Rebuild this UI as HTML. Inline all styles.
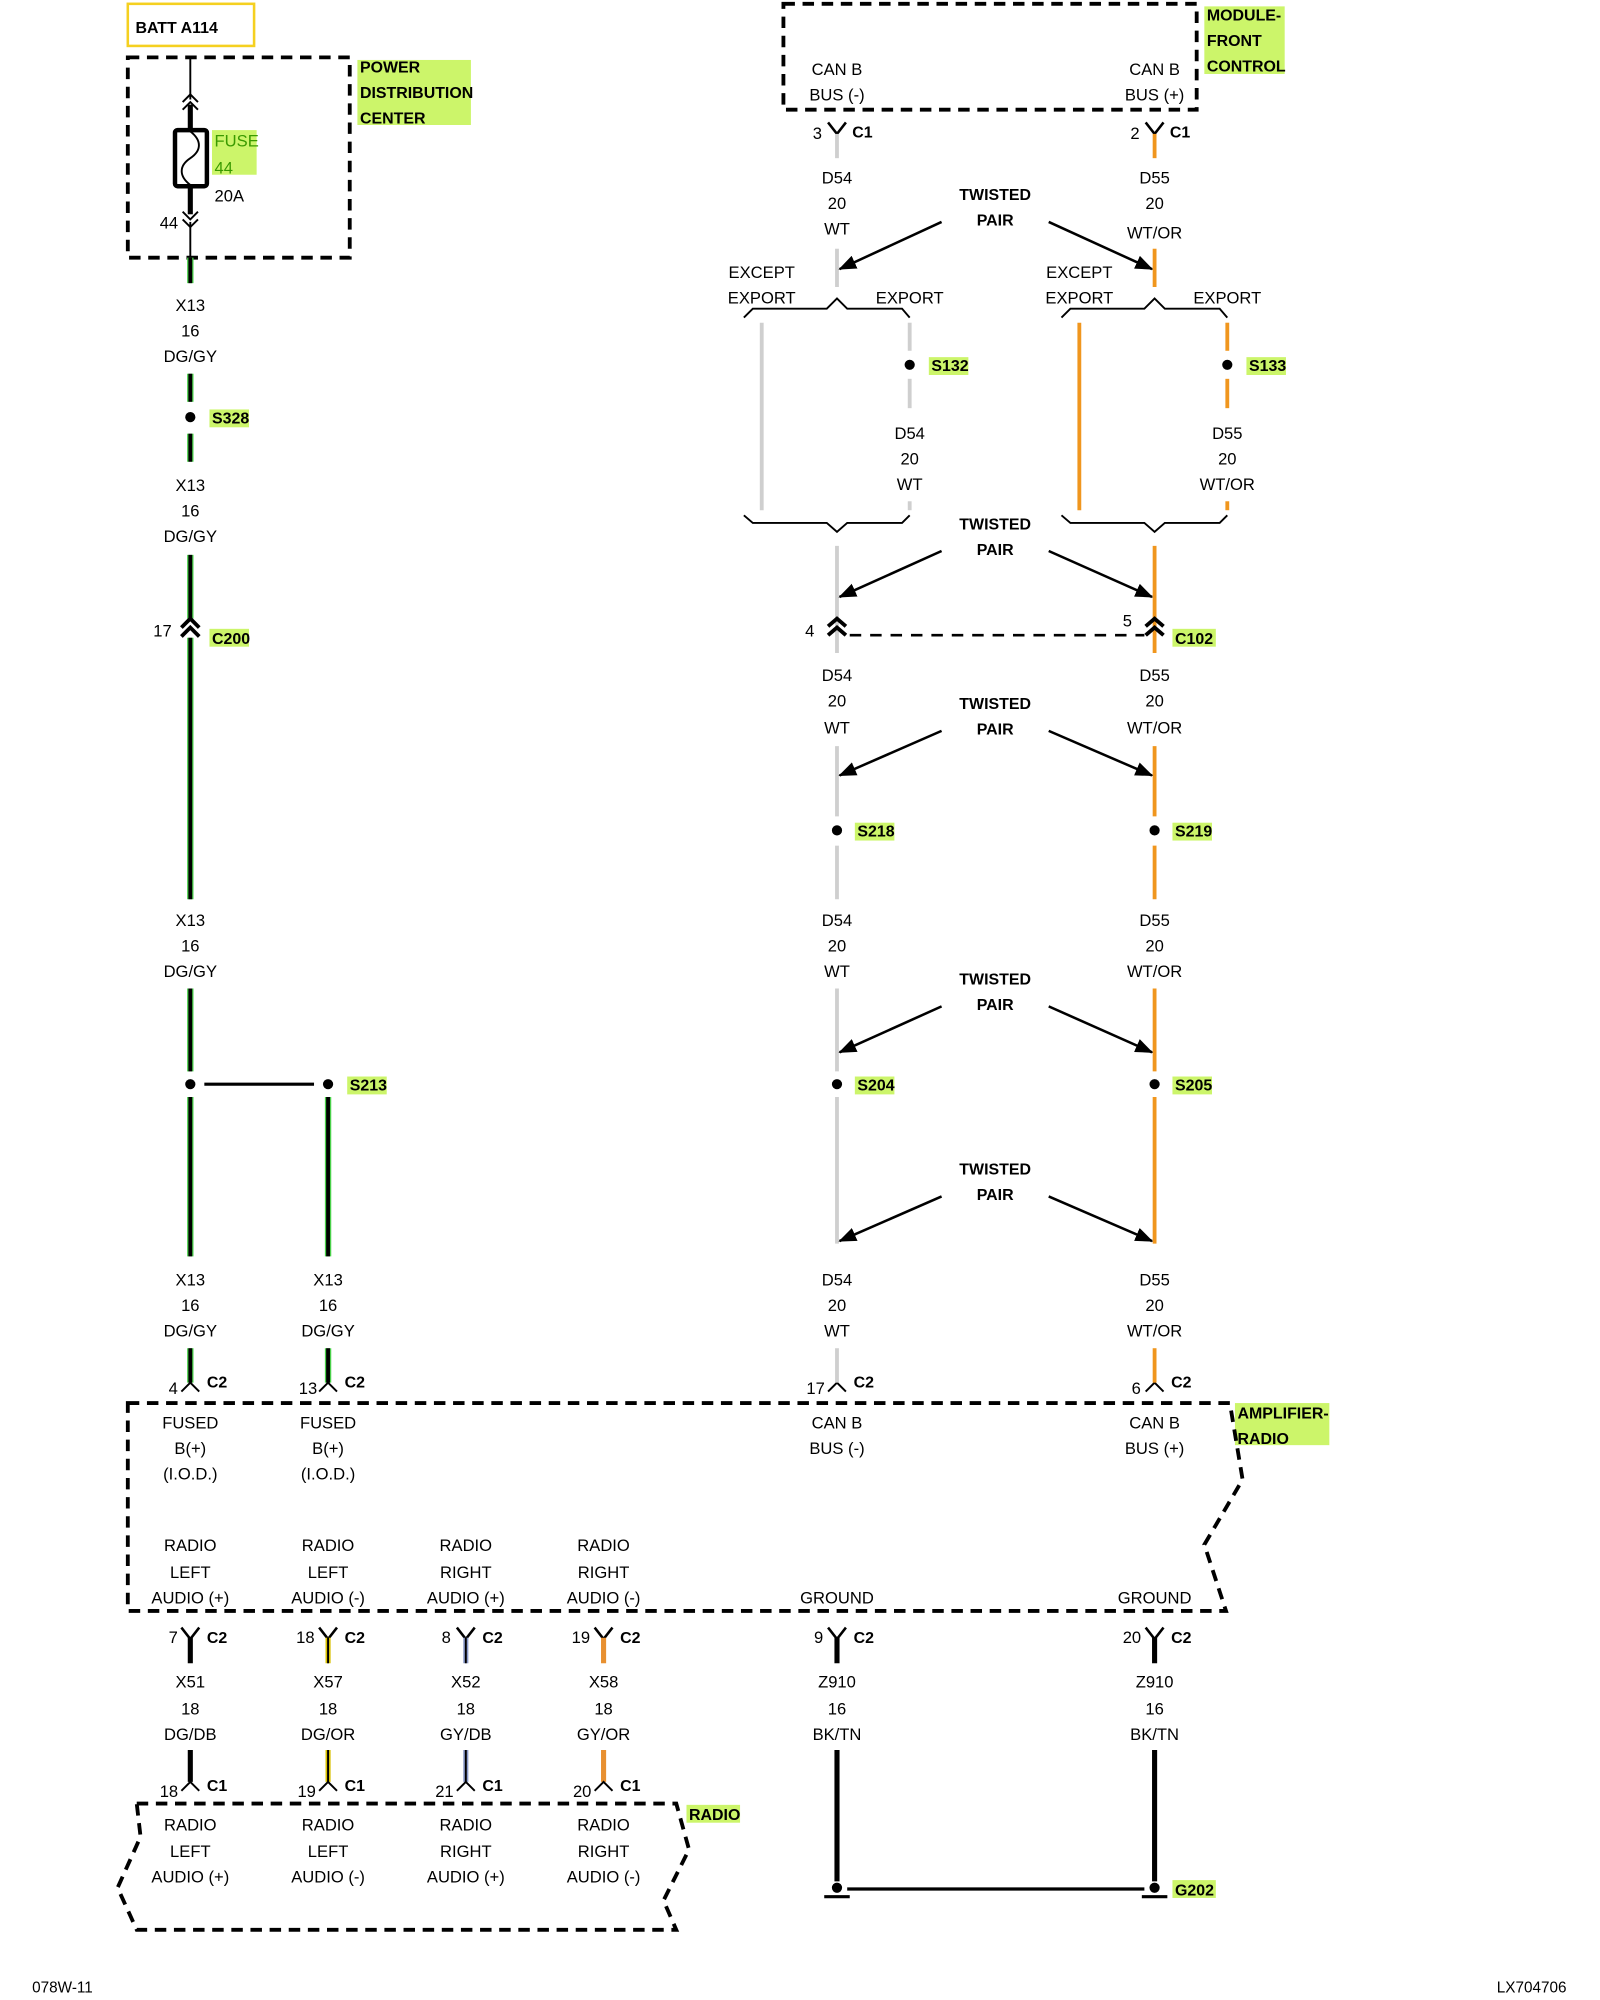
<!DOCTYPE html>
<html><head><meta charset="utf-8"><style>
html,body{margin:0;padding:0;background:#fff;}
svg{display:block;}
text{font-family:"Liberation Sans",sans-serif;font-size:13px;fill:#000;}
.c{text-anchor:middle;}
.b{font-weight:bold;font-size:12.5px;}
</style></head><body>
<svg width="1600" height="2000" viewBox="0 0 1254 1568" xmlns="http://www.w3.org/2000/svg">
<defs>
<marker id="ar" markerWidth="14" markerHeight="11" refX="13" refY="5.5" orient="auto" markerUnits="userSpaceOnUse" viewBox="0 0 14 11"><path d="M0,0 L14,5.5 L0,11 z" fill="#000"/></marker>
</defs>
<g fill="#ccf56a">
<rect x="280" y="47" width="89" height="51"/>
<rect x="166" y="102" width="35" height="35"/>
<rect x="944" y="5" width="63" height="53"/>
<rect x="164" y="321" width="31" height="14"/>
<rect x="164" y="493" width="31" height="14"/>
<rect x="272" y="844" width="31" height="14"/>
<rect x="728" y="280" width="31" height="14"/>
<rect x="977" y="280" width="31" height="14"/>
<rect x="919" y="493" width="34" height="14"/>
<rect x="670" y="645" width="31" height="14"/>
<rect x="919" y="645" width="31" height="14"/>
<rect x="670" y="844" width="31" height="14"/>
<rect x="919" y="844" width="31" height="14"/>
<rect x="968" y="1100" width="74" height="33"/>
<rect x="538" y="1415" width="42" height="14"/>
<rect x="919" y="1474" width="34" height="14"/>
</g>
<rect x="100" y="3" width="99" height="33" fill="none" stroke="#f5d020" stroke-width="2"/>
<text x="106" y="26" class="b">BATT A114</text>
<rect x="100" y="45" width="174" height="157" fill="none" stroke="#000" stroke-width="3" stroke-dasharray="9,6"/>
<text x="282" y="57" class="b">POWER</text>
<text x="282" y="77" class="b">DISTRIBUTION</text>
<text x="282" y="97" class="b">CENTER</text>
<line x1="149" y1="45" x2="149" y2="78" stroke="#000" stroke-width="1.5"/>
<path d="M143,80 L149,74 L155,80 M143,86 L149,80 L155,86" fill="none" stroke="#000" stroke-width="1.5"/>
<line x1="149" y1="82" x2="149" y2="103" stroke="#000" stroke-width="4"/>
<rect x="137" y="102" width="25" height="44" rx="2" fill="#fff" stroke="#000" stroke-width="3.5"/>
<path d="M149,103 C158,110 158,118 149,124 C140,130 140,138 149,145" fill="none" stroke="#000" stroke-width="1.5"/>
<line x1="149" y1="146" x2="149" y2="168" stroke="#000" stroke-width="4"/>
<path d="M143,166 L149,172 L155,166 M143,172 L149,178 L155,172" fill="none" stroke="#000" stroke-width="1.5"/>
<line x1="149" y1="174" x2="149" y2="202" stroke="#000" stroke-width="1.5"/>
<text x="168" y="115" style="fill:#3a9a00">FUSE</text>
<text x="168" y="136" style="fill:#3a9a00">44</text>
<text x="168" y="158">20A</text>
<text x="125" y="179">44</text>
<g stroke-linecap="butt">
<g stroke="#4ad04a" stroke-width="5">
<line x1="149" y1="202" x2="149" y2="222"/><line x1="149" y1="293" x2="149" y2="315"/><line x1="149" y1="340" x2="149" y2="362"/>
<line x1="149" y1="435" x2="149" y2="485"/><line x1="149" y1="500" x2="149" y2="705"/><line x1="149" y1="775" x2="149" y2="840"/>
<line x1="149" y1="860" x2="149" y2="985"/><line x1="257" y1="860" x2="257" y2="985"/>
<line x1="149" y1="1057" x2="149" y2="1084"/><line x1="257" y1="1057" x2="257" y2="1084"/>
</g>
<g stroke="#000" stroke-width="3">
<line x1="149" y1="202" x2="149" y2="222"/><line x1="149" y1="293" x2="149" y2="315"/><line x1="149" y1="340" x2="149" y2="362"/>
<line x1="149" y1="435" x2="149" y2="485"/><line x1="149" y1="500" x2="149" y2="705"/><line x1="149" y1="775" x2="149" y2="840"/>
<line x1="149" y1="860" x2="149" y2="985"/><line x1="257" y1="860" x2="257" y2="985"/>
<line x1="149" y1="1057" x2="149" y2="1084"/><line x1="257" y1="1057" x2="257" y2="1084"/>
</g>
</g>
<g>
<text x="149" y="244" class="c">X13</text><text x="149" y="264" class="c">16</text><text x="149" y="284" class="c">DG/GY</text>
<text x="149" y="385" class="c">X13</text><text x="149" y="405" class="c">16</text><text x="149" y="425" class="c">DG/GY</text>
<text x="149" y="726" class="c">X13</text><text x="149" y="746" class="c">16</text><text x="149" y="766" class="c">DG/GY</text>
<text x="149" y="1008" class="c">X13</text><text x="149" y="1028" class="c">16</text><text x="149" y="1048" class="c">DG/GY</text>
<text x="257" y="1008" class="c">X13</text><text x="257" y="1028" class="c">16</text><text x="257" y="1048" class="c">DG/GY</text>
</g>
<circle cx="149" cy="327" r="4"/>
<text x="166" y="332" class="b">S328</text>
<path d="M142,492 L149,485 L156,492 M142,499 L149,492 L156,499" fill="none" stroke="#000" stroke-width="3"/>
<text x="120" y="499">17</text><text x="166" y="505" class="b">C200</text>
<circle cx="149" cy="850" r="4"/><circle cx="257" cy="850" r="4"/>
<line x1="160" y1="850" x2="246" y2="850" stroke="#000" stroke-width="2.5"/>
<text x="274" y="855" class="b">S213</text>
<path d="M142,1091 L149,1084 L156,1091 M250,1091 L257,1084 L264,1091 M649,1091 L656,1084 L663,1091 M898,1091 L905,1084 L912,1091" fill="none" stroke="#000" stroke-width="1.5"/>
<text x="132" y="1093">4</text><text x="162" y="1088" class="b">C2</text>
<text x="234" y="1093">13</text><text x="270" y="1088" class="b">C2</text>
<text x="632" y="1093">17</text><text x="669" y="1088" class="b">C2</text>
<text x="887" y="1093">6</text><text x="918" y="1088" class="b">C2</text>
<path d="M100,1100 L964,1100 L974,1160 L944,1211 L961,1263 L100,1263 Z" fill="none" stroke="#000" stroke-width="3" stroke-dasharray="9,6"/>
<text x="970" y="1112" class="b">AMPLIFIER-</text><text x="970" y="1132" class="b">RADIO</text>
<g>
<text x="149" y="1120" class="c">FUSED</text><text x="149" y="1140" class="c">B(+)</text><text x="149" y="1160" class="c">(I.O.D.)</text>
<text x="257" y="1120" class="c">FUSED</text><text x="257" y="1140" class="c">B(+)</text><text x="257" y="1160" class="c">(I.O.D.)</text>
<text x="656" y="1120" class="c">CAN B</text><text x="656" y="1140" class="c">BUS (-)</text>
<text x="905" y="1120" class="c">CAN B</text><text x="905" y="1140" class="c">BUS (+)</text>
<text x="149" y="1216" class="c">RADIO</text><text x="149" y="1237" class="c">LEFT</text><text x="149" y="1257" class="c">AUDIO (+)</text>
<text x="257" y="1216" class="c">RADIO</text><text x="257" y="1237" class="c">LEFT</text><text x="257" y="1257" class="c">AUDIO (-)</text>
<text x="365" y="1216" class="c">RADIO</text><text x="365" y="1237" class="c">RIGHT</text><text x="365" y="1257" class="c">AUDIO (+)</text>
<text x="473" y="1216" class="c">RADIO</text><text x="473" y="1237" class="c">RIGHT</text><text x="473" y="1257" class="c">AUDIO (-)</text>
<text x="656" y="1257" class="c">GROUND</text><text x="905" y="1257" class="c">GROUND</text>
</g>
<g fill="none" stroke="#000" stroke-width="2">
<path d="M142,1276 L149,1285 L156,1276 M250,1276 L257,1285 L264,1276 M358,1276 L365,1285 L372,1276 M466,1276 L473,1285 L480,1276 M649,1276 L656,1285 L663,1276 M898,1276 L905,1285 L912,1276"/>
</g>
<g stroke-width="4">
<line x1="149" y1="1284" x2="149" y2="1304" stroke="#000"/>
<line x1="257" y1="1284" x2="257" y2="1304" stroke="#d8c000"/>
<line x1="365" y1="1284" x2="365" y2="1304" stroke="#8898c8"/>
<line x1="473" y1="1284" x2="473" y2="1304" stroke="#e89030"/>
<line x1="656" y1="1284" x2="656" y2="1304" stroke="#000"/>
<line x1="905" y1="1284" x2="905" y2="1304" stroke="#000"/>
<line x1="149" y1="1372" x2="149" y2="1397" stroke="#000"/>
<line x1="257" y1="1372" x2="257" y2="1397" stroke="#d8c000"/>
<line x1="365" y1="1372" x2="365" y2="1397" stroke="#8898c8"/>
<line x1="473" y1="1372" x2="473" y2="1397" stroke="#e89030"/>
<line x1="656" y1="1372" x2="656" y2="1475" stroke="#000"/>
<line x1="905" y1="1372" x2="905" y2="1475" stroke="#000"/>
</g>
<g stroke="#000" stroke-width="1.5">
<line x1="257" y1="1284" x2="257" y2="1304"/><line x1="365" y1="1284" x2="365" y2="1304"/>
<line x1="257" y1="1372" x2="257" y2="1397"/><line x1="365" y1="1372" x2="365" y2="1397"/>
</g>
<text x="132" y="1288">7</text><text x="162" y="1288" class="b">C2</text>
<text x="232" y="1288">18</text><text x="270" y="1288" class="b">C2</text>
<text x="346" y="1288">8</text><text x="378" y="1288" class="b">C2</text>
<text x="448" y="1288">19</text><text x="486" y="1288" class="b">C2</text>
<text x="638" y="1288">9</text><text x="669" y="1288" class="b">C2</text>
<text x="880" y="1288">20</text><text x="918" y="1288" class="b">C2</text>
<g>
<text x="149" y="1323" class="c">X51</text><text x="149" y="1344" class="c">18</text><text x="149" y="1364" class="c">DG/DB</text>
<text x="257" y="1323" class="c">X57</text><text x="257" y="1344" class="c">18</text><text x="257" y="1364" class="c">DG/OR</text>
<text x="365" y="1323" class="c">X52</text><text x="365" y="1344" class="c">18</text><text x="365" y="1364" class="c">GY/DB</text>
<text x="473" y="1323" class="c">X58</text><text x="473" y="1344" class="c">18</text><text x="473" y="1364" class="c">GY/OR</text>
<text x="656" y="1323" class="c">Z910</text><text x="656" y="1344" class="c">16</text><text x="656" y="1364" class="c">BK/TN</text>
<text x="905" y="1323" class="c">Z910</text><text x="905" y="1344" class="c">16</text><text x="905" y="1364" class="c">BK/TN</text>
</g>
<path d="M142,1404 L149,1397 L156,1404 M250,1404 L257,1397 L264,1404 M358,1404 L365,1397 L372,1404 M466,1404 L473,1397 L480,1404" fill="none" stroke="#000" stroke-width="1.5"/>
<text x="125" y="1409">18</text><text x="162" y="1404" class="b">C1</text>
<text x="233" y="1409">19</text><text x="270" y="1404" class="b">C1</text>
<text x="341" y="1409">21</text><text x="378" y="1404" class="b">C1</text>
<text x="449" y="1409">20</text><text x="486" y="1404" class="b">C1</text>
<path d="M107,1414 L530,1414 L540,1450 L520,1490 L530,1513 L107,1513 L92,1480 L110,1440 Z" fill="none" stroke="#000" stroke-width="3" stroke-dasharray="9,6"/>
<text x="540" y="1427" class="b">RADIO</text>
<g>
<text x="149" y="1435" class="c">RADIO</text><text x="149" y="1456" class="c">LEFT</text><text x="149" y="1476" class="c">AUDIO (+)</text>
<text x="257" y="1435" class="c">RADIO</text><text x="257" y="1456" class="c">LEFT</text><text x="257" y="1476" class="c">AUDIO (-)</text>
<text x="365" y="1435" class="c">RADIO</text><text x="365" y="1456" class="c">RIGHT</text><text x="365" y="1476" class="c">AUDIO (+)</text>
<text x="473" y="1435" class="c">RADIO</text><text x="473" y="1456" class="c">RIGHT</text><text x="473" y="1476" class="c">AUDIO (-)</text>
</g>
<circle cx="656" cy="1480" r="4"/><circle cx="905" cy="1480" r="4"/>
<line x1="664" y1="1481" x2="897" y2="1481" stroke="#000" stroke-width="2.5"/>
<line x1="646" y1="1487" x2="666" y2="1487" stroke="#000" stroke-width="2.5"/>
<line x1="895" y1="1487" x2="915" y2="1487" stroke="#000" stroke-width="2.5"/>
<text x="921" y="1486" class="b">G202</text>
<rect x="614" y="3" width="324" height="83" fill="none" stroke="#000" stroke-width="3" stroke-dasharray="9,6"/>
<text x="946" y="16" class="b">MODULE-</text><text x="946" y="36" class="b">FRONT</text><text x="946" y="56" class="b">CONTROL</text>
<text x="656" y="59" class="c">CAN B</text><text x="656" y="79" class="c">BUS (-)</text>
<text x="905" y="59" class="c">CAN B</text><text x="905" y="79" class="c">BUS (+)</text>
<path d="M649,96 L656,105 L663,96 M898,96 L905,105 L912,96" fill="none" stroke="#000" stroke-width="2"/>
<text x="637" y="109">3</text><text x="668" y="108" class="b">C1</text>
<text x="886" y="109">2</text><text x="917" y="108" class="b">C1</text>
<g stroke="#cfcfcf" stroke-width="3">
<line x1="656" y1="105" x2="656" y2="124"/><line x1="656" y1="195" x2="656" y2="225"/>
<line x1="597" y1="253" x2="597" y2="400"/>
<line x1="713" y1="253" x2="713" y2="275"/><line x1="713" y1="297" x2="713" y2="320"/><line x1="713" y1="393" x2="713" y2="400"/>
<line x1="656" y1="428" x2="656" y2="512"/><line x1="656" y1="585" x2="656" y2="640"/><line x1="656" y1="663" x2="656" y2="705"/>
<line x1="656" y1="775" x2="656" y2="840"/><line x1="656" y1="860" x2="656" y2="975"/><line x1="656" y1="1057" x2="656" y2="1084"/>
</g>
<g stroke="#f0961e" stroke-width="3">
<line x1="905" y1="105" x2="905" y2="124"/><line x1="905" y1="195" x2="905" y2="225"/>
<line x1="846" y1="253" x2="846" y2="400"/>
<line x1="962" y1="253" x2="962" y2="275"/><line x1="962" y1="297" x2="962" y2="320"/><line x1="962" y1="393" x2="962" y2="400"/>
<line x1="905" y1="428" x2="905" y2="512"/><line x1="905" y1="585" x2="905" y2="640"/><line x1="905" y1="663" x2="905" y2="705"/>
<line x1="905" y1="775" x2="905" y2="840"/><line x1="905" y1="860" x2="905" y2="975"/><line x1="905" y1="1057" x2="905" y2="1084"/>
</g>
<g>
<text x="656" y="144" class="c">D54</text><text x="656" y="164" class="c">20</text><text x="656" y="184" class="c">WT</text>
<text x="905" y="144" class="c">D55</text><text x="905" y="164" class="c">20</text><text x="905" y="187" class="c">WT/OR</text>
<text x="597" y="218" class="c">EXCEPT</text><text x="597" y="238" class="c">EXPORT</text><text x="713" y="238" class="c">EXPORT</text>
<text x="846" y="218" class="c">EXCEPT</text><text x="846" y="238" class="c">EXPORT</text><text x="962" y="238" class="c">EXPORT</text>
<text x="713" y="344" class="c">D54</text><text x="713" y="364" class="c">20</text><text x="713" y="384" class="c">WT</text>
<text x="962" y="344" class="c">D55</text><text x="962" y="364" class="c">20</text><text x="962" y="384" class="c">WT/OR</text>
<text x="656" y="534" class="c">D54</text><text x="656" y="554" class="c">20</text><text x="656" y="575" class="c">WT</text>
<text x="905" y="534" class="c">D55</text><text x="905" y="554" class="c">20</text><text x="905" y="575" class="c">WT/OR</text>
<text x="656" y="726" class="c">D54</text><text x="656" y="746" class="c">20</text><text x="656" y="766" class="c">WT</text>
<text x="905" y="726" class="c">D55</text><text x="905" y="746" class="c">20</text><text x="905" y="766" class="c">WT/OR</text>
<text x="656" y="1008" class="c">D54</text><text x="656" y="1028" class="c">20</text><text x="656" y="1048" class="c">WT</text>
<text x="905" y="1008" class="c">D55</text><text x="905" y="1028" class="c">20</text><text x="905" y="1048" class="c">WT/OR</text>
</g>
<g fill="none" stroke="#000" stroke-width="1.5">
<path d="M583,249 L590,242 L648,242 L656,234 L664,242 L707,242 L713,249"/>
<path d="M832,249 L839,242 L897,242 L905,234 L913,242 L956,242 L962,249"/>
<path d="M583,404 L590,410 L648,410 L656,417 L664,410 L707,410 L713,404"/>
<path d="M832,404 L839,410 L897,410 L905,417 L913,410 L956,410 L962,404"/>
</g>
<circle cx="713" cy="286" r="4"/><text x="730" y="291" class="b">S132</text>
<circle cx="962" cy="286" r="4"/><text x="979" y="291" class="b">S133</text>
<g>
<text x="780" y="157" class="c b">TWISTED</text><text x="780" y="177" class="c b">PAIR</text>
<text x="780" y="415" class="c b">TWISTED</text><text x="780" y="435" class="c b">PAIR</text>
<text x="780" y="556" class="c b">TWISTED</text><text x="780" y="576" class="c b">PAIR</text>
<text x="780" y="772" class="c b">TWISTED</text><text x="780" y="792" class="c b">PAIR</text>
<text x="780" y="921" class="c b">TWISTED</text><text x="780" y="941" class="c b">PAIR</text>
</g>
<g stroke="#000" stroke-width="2" marker-end="url(#ar)">
<line x1="738" y1="174" x2="658" y2="211"/><line x1="822" y1="174" x2="903" y2="211"/>
<line x1="738" y1="432" x2="658" y2="468"/><line x1="822" y1="432" x2="903" y2="468"/>
<line x1="738" y1="573" x2="658" y2="608"/><line x1="822" y1="573" x2="903" y2="608"/>
<line x1="738" y1="789" x2="658" y2="825"/><line x1="822" y1="789" x2="903" y2="825"/>
<line x1="738" y1="938" x2="658" y2="973"/><line x1="822" y1="938" x2="903" y2="973"/>
</g>
<path d="M649,491 L656,485 L663,491 M649,498 L656,492 L663,498 M898,491 L905,485 L912,491 M898,498 L905,492 L912,498" fill="none" stroke="#000" stroke-width="3"/>
<line x1="666" y1="498" x2="897" y2="498" stroke="#000" stroke-width="2" stroke-dasharray="9,7"/>
<text x="631" y="499">4</text><text x="880" y="491">5</text><text x="921" y="505" class="b">C102</text>
<circle cx="656" cy="651" r="4"/><text x="672" y="656" class="b">S218</text>
<circle cx="905" cy="651" r="4"/><text x="921" y="656" class="b">S219</text>
<circle cx="656" cy="850" r="4"/><text x="672" y="855" class="b">S204</text>
<circle cx="905" cy="850" r="4"/><text x="921" y="855" class="b">S205</text>
<text x="25" y="1562" style="font-size:12px">078W-11</text>
<text x="1228" y="1562" style="font-size:12px;text-anchor:end">LX704706</text>
</svg>
</body></html>
